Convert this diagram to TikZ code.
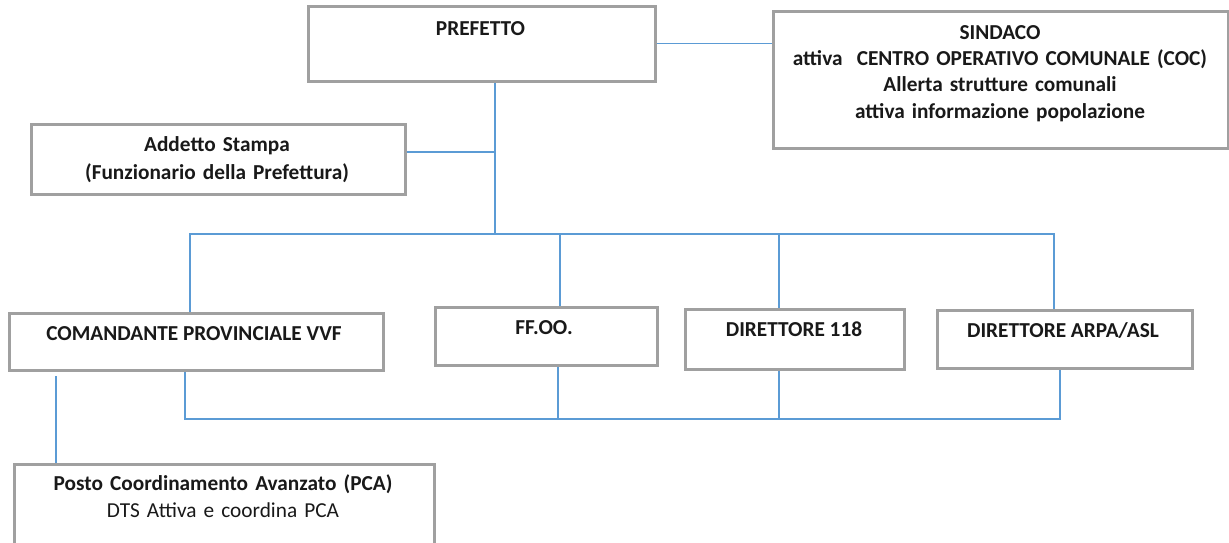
\documentclass[tikz,border=0pt]{standalone}
\usepackage{fontspec}
\setmainfont{Carlito}
\definecolor{lineblue}{RGB}{91,155,213}
\definecolor{boxgray}{RGB}{160,160,160}
\definecolor{txtcol}{RGB}{25,25,25}
\begin{document}
\begin{tikzpicture}[x=1pt,y=-1pt,
  box/.style={draw=boxgray, line width=2.5pt, fill=white, rectangle, inner sep=0pt, anchor=north west},
  conn/.style={draw=lineblue, line width=1.3pt},
  lbl/.style={inner sep=0pt, text=txtcol, font=\fontsize{21.3}{26}\selectfont\bfseries, align=center, anchor=base}]
\useasboundingbox (0,0) rectangle (1229,542);
\fill[white] (0,0) rectangle (1229,542);

% boxes
\node[box, minimum width=347pt, minimum height=75pt] (pref) at (307,5) {};
\node[box, minimum width=455pt, minimum height=137pt] (sind) at (772,10) {};
\node[box, minimum width=374pt, minimum height=70pt] (addetto) at (30,123) {};
\node[box, minimum width=374pt, minimum height=57pt] (coman) at (8,312) {};
\node[box, minimum width=222pt, minimum height=58pt] (ffoo) at (434,306) {};
\node[box, minimum width=219pt, minimum height=60pt] (dir118) at (684,308) {};
\node[box, minimum width=255pt, minimum height=58pt] (arpa) at (936,309) {};
\node[box, minimum width=420pt, minimum height=90pt] (pca) at (13,463) {};

% texts
\node[lbl] (pref-t) at (480.5,35) {PREFETTO};
\node[lbl, text width=445pt, font=\fontsize{21.3}{26.4}\selectfont\bfseries] (sind-t) at (1000,39)
  {SINDACO\\attiva~ CENTRO OPERATIVO COMUNALE (COC)\\Allerta strutture comunali\\attiva informazione popolazione};
\node[lbl, text width=365pt, font=\fontsize{21.3}{28}\selectfont\bfseries] (addetto-t) at (217,151)
  {Addetto Stampa\\(Funzionario della Prefettura)};
\node[lbl] (coman-t) at (194,340) {COMANDANTE PROVINCIALE VVF};
\node[lbl] (ffoo-t) at (544,334) {FF.OO.};
\node[lbl] (dir118-t) at (794,336) {DIRETTORE 118};
\node[lbl] (arpa-t) at (1063,337) {DIRETTORE ARPA/ASL};
\node[lbl, text width=415pt, font=\fontsize{21.3}{27}\selectfont\bfseries] (pca-t) at (223,490)
  {Posto Coordinamento Avanzato (PCA)\\{\mdseries DTS Attiva e coordina PCA}};

% connector coordinates
\coordinate (spine) at (495,234);
\coordinate (aj) at (495,152);
\coordinate (t1) at (190,234);
\coordinate (t2) at (560,234);
\coordinate (t3) at (779,234);
\coordinate (t4) at (1054,234);
\coordinate (b1) at (185,419);
\coordinate (b2) at (558,419);
\coordinate (b3) at (779,419);
\coordinate (b4) at (1060,419);
\coordinate (pfree) at (56,376);

% connectors
\draw[conn] (pref.east) -- (pref.east -| sind.west);
\draw[conn] (spine |- pref.south) -- (spine);
\draw[conn] (addetto.east |- aj) -- (aj);
\draw[conn] (t1 |- coman.north) -- (t1) -- (t4) -- (t4 |- arpa.north);
\draw[conn] (t2) -- (t2 |- ffoo.north);
\draw[conn] (t3) -- (t3 |- dir118.north);
\draw[conn] (b1 |- coman.south) -- (b1) -- (b4) -- (b4 |- arpa.south);
\draw[conn] (b2 |- ffoo.south) -- (b2);
\draw[conn] (b3 |- dir118.south) -- (b3);
\draw[conn] (pfree) -- (pfree |- pca.north);
\end{tikzpicture}
\end{document}
